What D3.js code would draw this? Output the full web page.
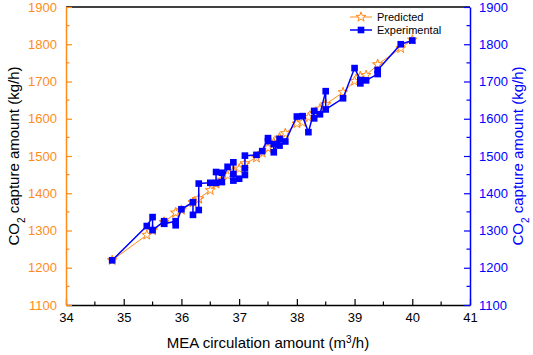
<!DOCTYPE html>
<html><head><meta charset="utf-8">
<script src="https://cdn.jsdelivr.net/npm/d3@7"></script>
<style>body{margin:0;background:#fff}svg{display:block;font-family:Arial,"Liberation Sans",sans-serif}</style>
</head><body><svg id="c" width="533" height="355"></svg>
<script>
const xValues = [34.8,35.4,35.5,35.5,35.7,35.7,35.9,35.9,36.0,36.2,36.2,36.3,36.3,36.5,36.6,36.6,36.7,36.7,36.8,36.9,36.9,36.9,37.0,37.1,37.1,37.1,37.3,37.4,37.5,37.5,37.6,37.6,37.7,37.7,37.8,38.0,38.1,38.2,38.3,38.3,38.4,38.5,38.5,38.8,39.0,39.1,39.1,39.2,39.4,39.4,39.8,40.0];
const experimental = [1220,1312,1336,1301,1325,1318,1325,1314,1357,1376,1342,1355,1426,1428,1428,1457,1455,1430,1471,1483,1452,1434,1439,1449,1467,1501,1503,1513,1548,1540,1532,1510,1546,1528,1539,1606,1607,1564,1621,1601,1612,1674,1625,1655,1736,1704,1695,1703,1720,1731,1800,1810];
const predicted = [1220,1288,1300,1302,1322,1323,1347,1348,1355,1375,1376,1384,1386,1408,1425,1426,1435,1436,1448,1458,1459,1460,1466,1478,1479,1480,1495,1508,1521,1522,1535,1536,1548,1549,1561,1587,1590,1604,1615,1616,1627,1638,1639,1671,1701,1713,1714,1717,1745,1746,1789,1812];
const xTicks = [34,35,36,37,38,39,40,41];
const yTicks = [1100,1200,1300,1400,1500,1600,1700,1800,1900];
const seriesNames = ["Predicted","Experimental"];

const ORANGE = "#FF8C1A", BLUE = "#0000FF";
const svg = d3.select("#c");
const L = 66, R = 470, T = 7, B = 305;
const x = d3.scaleLinear().domain([34,41]).range([L,R]);
const y = d3.scaleLinear().domain([1100,1900]).range([B,T]);

const xMinor = d3.range(34.5,41,1);
const yMinor = d3.range(1150,1900,100);

svg.append("line").attr("x1",L).attr("x2",R).attr("y1",T).attr("y2",T).attr("stroke","#000").attr("stroke-width",1.3);

const gx = svg.append("g").attr("transform",`translate(0,${B})`)
  .call(d3.axisBottom(x).tickValues(xTicks).tickFormat(d3.format("d")).tickSizeInner(-6).tickSizeOuter(0).tickPadding(8));
gx.select(".domain").attr("stroke","#000").attr("stroke-width",1.3);
gx.selectAll(".tick line").attr("stroke","#000").attr("stroke-width",1.2);
gx.selectAll("text").attr("font-size",13).attr("fill","#000").attr("dy","0.71em");
gx.selectAll(".minor").data(xMinor).enter().append("line").attr("x1",d=>x(d)).attr("x2",d=>x(d)).attr("y1",0).attr("y2",-3.5).attr("stroke","#000").attr("stroke-width",1.2);

const gl = svg.append("g").attr("transform",`translate(${L},0)`)
  .call(d3.axisLeft(y).tickValues(yTicks).tickFormat(d3.format("d")).tickSizeInner(-6).tickSizeOuter(0).tickPadding(9));
gl.select(".domain").attr("stroke",ORANGE).attr("stroke-width",1.5);
gl.selectAll(".tick line").attr("stroke",ORANGE).attr("stroke-width",1.2);
gl.selectAll("text").attr("font-size",13).attr("fill",ORANGE);
gl.selectAll(".minor").data(yMinor).enter().append("line").attr("y1",d=>y(d)).attr("y2",d=>y(d)).attr("x1",0).attr("x2",3.5).attr("stroke",ORANGE).attr("stroke-width",1.2);

const gr = svg.append("g").attr("transform",`translate(${R},0)`)
  .call(d3.axisRight(y).tickValues(yTicks).tickFormat(d3.format("d")).tickSizeInner(-6).tickSizeOuter(0).tickPadding(9));
gr.select(".domain").attr("stroke",BLUE).attr("stroke-width",1.5);
gr.selectAll(".tick line").attr("stroke",BLUE).attr("stroke-width",1.2);
gr.selectAll("text").attr("font-size",13).attr("fill",BLUE);
gr.selectAll(".minor").data(yMinor).enter().append("line").attr("y1",d=>y(d)).attr("y2",d=>y(d)).attr("x1",0).attr("x2",-3.5).attr("stroke",BLUE).attr("stroke-width",1.2);

svg.append("text").attr("x",(L+R)/2).attr("y",348).attr("text-anchor","middle").attr("font-size",15).attr("fill","#000")
  .html('MEA circulation amount (m<tspan baseline-shift="super" font-size="10">3</tspan>/h)');
function yTitle(cx, color){
  svg.append("text").attr("transform",`translate(${cx},${(T+B)/2}) rotate(-90)`).attr("text-anchor","middle")
    .attr("font-size",15).attr("fill",color)
    .html('CO<tspan baseline-shift="sub" font-size="10">2</tspan> capture amount (kg/h)');
}
yTitle(19,"#000");
yTitle(523,BLUE);

const pts = xValues.map((v,i)=>({x:v,e:experimental[i],p:predicted[i]}));
const line = d3.line().x(d=>x(d[0])).y(d=>y(d[1]));
const star = d3.symbol().type(d3.symbolStar).size(30);
const sq = d3.symbol().type(d3.symbolSquare).size(44);

svg.append("path").datum(pts.map(d=>[d.x,d.p])).attr("d",line).attr("fill","none").attr("stroke",ORANGE).attr("stroke-width",1);
svg.selectAll(".st").data(pts).enter().append("path").attr("d",star)
  .attr("transform",d=>`translate(${x(d.x)},${y(d.p)})`).attr("fill","#fff").attr("stroke",ORANGE).attr("stroke-width",1);

svg.append("path").datum(pts.map(d=>[d.x,d.e])).attr("d",line).attr("fill","none").attr("stroke",BLUE).attr("stroke-width",1.5);
svg.selectAll(".sq").data(pts).enter().append("path").attr("d",sq)
  .attr("transform",d=>`translate(${x(d.x)},${y(d.e)})`).attr("fill",BLUE);

const lg = svg.append("g");
const legendItems = [{name:seriesNames[0],c:ORANGE,w:1,sym:star,fill:"#fff",yy:17},{name:seriesNames[1],c:BLUE,w:1.5,sym:sq,fill:BLUE,yy:30}];
legendItems.forEach(it=>{
  lg.append("line").attr("x1",350).attr("x2",372).attr("y1",it.yy).attr("y2",it.yy).attr("stroke",it.c).attr("stroke-width",it.w);
  lg.append("path").attr("d",it.sym).attr("transform",`translate(361,${it.yy})`).attr("fill",it.fill).attr("stroke",it.fill==="#fff"?it.c:"none");
  lg.append("text").attr("x",377).attr("y",it.yy).attr("dy","0.35em").attr("font-size",11).attr("fill","#000").text(it.name);
});
</script></body></html>
